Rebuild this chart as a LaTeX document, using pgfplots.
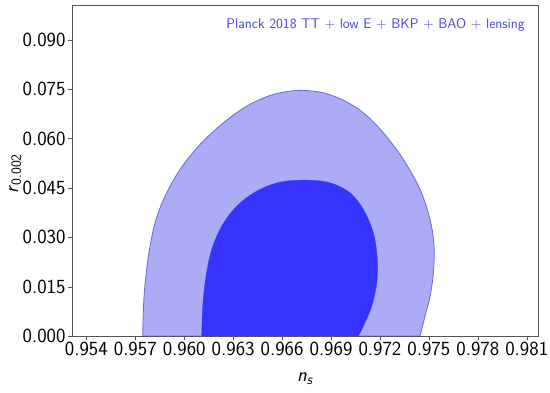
\documentclass[border=0pt]{standalone}
\usepackage{pgfplots}
\pgfplotsset{compat=1.18}
\definecolor{outerfill}{HTML}{ABABF6}
\definecolor{innerfill}{HTML}{3434FE}
\definecolor{edgeblue}{HTML}{6A6AE0}
\definecolor{txtblue}{HTML}{4545DD}
\definecolor{axgray}{HTML}{555555}
\newcommand{\sub}[1]{\raisebox{-0.35ex}{\fontsize{14}{16}\selectfont #1}}

\begin{document}
\begin{tikzpicture}
% page = 550 x 393, axis box 466 x 331 at (72,57) from the lower left
\useasboundingbox (-72pt,-57pt) rectangle (478pt,336pt);
\begin{axis}[
    scale only axis,
    width=466pt, height=331pt,
    xmin=0.95312, xmax=0.98169,
    ymin=0, ymax=0.1006,
    axis on top,
    axis line style={axgray},
    xtick={0.954,0.957,0.960,0.963,0.966,0.969,0.972,0.975,0.978,0.981},
    ytick={0,0.015,0.030,0.045,0.060,0.075,0.090},
    tick align=outside,
    tick pos=left,
    major tick length=4pt,
    tick style={axgray},
    scaled ticks=false,
    /pgf/number format/.cd, fixed, fixed zerofill, precision=3, assume math mode=true,
    /pgfplots/.cd,
    ticklabel style={font=\fontsize{20}{24}\selectfont\sffamily},
    xticklabel style={yshift=1pt},
    yticklabel style={xshift=1pt},
    xlabel={\textit{n}\sub{\textit{s}}},
    ylabel={\textit{r}\sub{0.002}},
    label style={font=\fontsize{20}{24}\selectfont\sffamily},
    xlabel style={at={(axis description cs:0.5,-0.13)}, anchor=center},
    ylabel style={at={(axis description cs:-0.122,0.49)}, anchor=center},
]
% 95% region
\addplot[fill=outerfill, draw=edgeblue, line width=0.8pt, smooth, tension=0.55] coordinates {
(0.974459,0.00000) (0.974765,0.00603) (0.975072,0.01211) (0.975276,0.01920)
(0.975317,0.02730) (0.975072,0.03541) (0.974459,0.04453) (0.973437,0.05365)
(0.972211,0.06175) (0.970984,0.06783) (0.969758,0.07168) (0.968532,0.07391)
(0.967408,0.07462) (0.966488,0.07442) (0.965262,0.07310) (0.963832,0.06986)
(0.962401,0.06479) (0.960971,0.05821) (0.959745,0.05061) (0.958825,0.04250)
(0.958212,0.03440) (0.957803,0.02427) (0.957537,0.01211) (0.957456,0.00000)
} -- cycle;
% 68% region
\addplot[fill=innerfill, draw=innerfill, line width=0.3pt, smooth, tension=0.55] coordinates {
(0.970678,0.00000) (0.970984,0.00299) (0.971496,0.00907) (0.971802,0.01616)
(0.971843,0.02325) (0.971597,0.03136) (0.970984,0.03845) (0.970167,0.04352)
(0.968941,0.04656) (0.967510,0.04737) (0.965875,0.04676) (0.964445,0.04402)
(0.963219,0.03946) (0.962299,0.03338) (0.961686,0.02629) (0.961339,0.01819)
(0.961134,0.00907) (0.961073,0.00000)
} -- cycle;
\node[anchor=north east, text=txtblue, font=\fontsize{14}{16}\selectfont\sffamily, inner sep=0pt]
  at (rel axis cs:0.972,0.961) {Planck 2018 TT + low E + BKP + BAO + lensing};
\end{axis}
\end{tikzpicture}
\end{document}
